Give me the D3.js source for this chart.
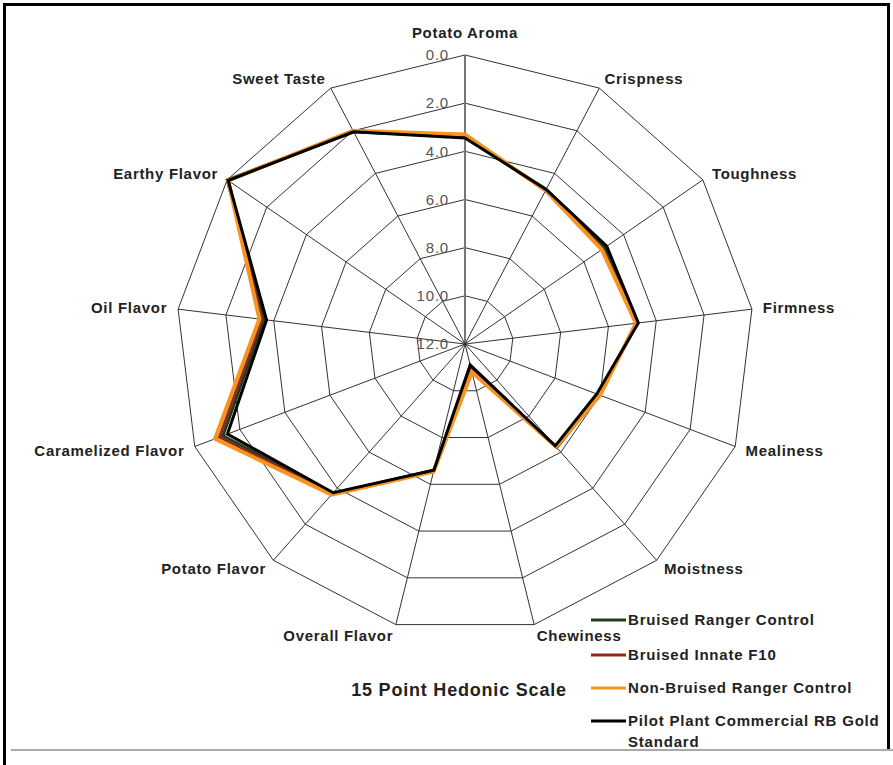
<!DOCTYPE html>
<html>
<head>
<meta charset="utf-8">
<script src="https://cdn.jsdelivr.net/npm/d3@7"></script>
<style>
  body { margin: 0; background: #fff; }
  svg { display: block; font-family: "Liberation Sans", Arial, sans-serif; }
</style>
</head>
<body>
<script>
// axes, clockwise from the top
var categories = ["Potato Aroma", "Crispness", "Toughness", "Firmness", "Mealiness",
    "Moistness", "Chewiness", "Overall Flavor", "Potato Flavor", "Caramelized Flavor",
    "Oil Flavor", "Earthy Flavor", "Sweet Taste"];

var seriesNames = ["Bruised Ranger Control", "Bruised Innate F10",
    "Non-Bruised Ranger Control", "Pilot Plant Commercial RB Gold Standard"];

var bruisedRanger  = [3.4, 4.75, 4.95, 4.8, 6.1, 6.3, 11.0, 6.6, 3.7, 1.25, 3.6, 0.0, 2.05];
var bruisedInnate  = [3.35, 4.8, 5.05, 4.8, 6.05, 6.25, 10.9, 6.6, 3.7, 1.1, 3.5, 0.05, 2.0];
var nonBruised     = [3.3, 4.8, 5.1, 4.85, 6.0, 6.3, 10.8, 6.55, 3.65, 0.9, 3.4, 0.05, 2.0];
var pilotPlant     = [3.45, 4.75, 4.85, 4.75, 6.15, 6.35, 11.1, 6.6, 3.75, 1.45, 3.7, 0.05, 2.05];

var tickValues = [0, 2, 4, 6, 8, 10, 12];

var width = 893, height = 765;
var cx = 465, cy = 344, R = 289;

var svg = d3.select("body").append("svg")
    .attr("width", width)
    .attr("height", height);

// frame
svg.append("path")
    .attr("d", "M4.5,765 L4.5,4.5 L888.5,4.5 L888.5,749")
    .attr("fill", "none").attr("stroke", "#000").attr("stroke-width", 3);
svg.append("line")
    .attr("x1", 11).attr("x2", 893).attr("y1", 750).attr("y2", 750)
    .attr("stroke", "#aaa").attr("stroke-width", 2);

// value scale runs in reverse: 0 on the outside, 12 at the centre
var r = d3.scaleLinear().domain([12, 0]).range([0, R]);
var angle = d3.scalePoint().domain(categories).range([0, 2 * Math.PI * 12 / 13]);

var g = svg.append("g").attr("transform", "translate(" + cx + "," + cy + ")");

function pt(cat, v) {
    var a = angle(cat);
    return [r(v) * Math.sin(a), -r(v) * Math.cos(a)];
}

// rings
g.selectAll("polygon.ring")
    .data(tickValues.filter(function (d) { return d < 12; }))
    .enter().append("polygon")
    .attr("class", "ring")
    .attr("points", function (v) {
        return categories.map(function (c) { return pt(c, v).join(","); }).join(" ");
    })
    .attr("fill", "none").attr("stroke", "#333").attr("stroke-width", 1);

// spokes
g.selectAll("line.spoke")
    .data(categories)
    .enter().append("line")
    .attr("class", "spoke")
    .attr("x1", 0).attr("y1", 0)
    .attr("x2", function (c) { return pt(c, 0)[0]; })
    .attr("y2", function (c) { return pt(c, 0)[1]; })
    .attr("stroke", function (c, i) { return i === 0 ? "#777" : "#333"; })
    .attr("stroke-width", function (c, i) { return i === 0 ? 2 : 1; });

// tick labels along the top axis
g.selectAll("text.tick")
    .data(tickValues)
    .enter().append("text")
    .attr("class", "tick")
    .attr("x", -16)
    .attr("y", function (v) { return -r(v); })
    .attr("dy", "0.35em")
    .attr("text-anchor", "end")
    .attr("font-size", 15)
    .attr("letter-spacing", 0.8)
    .attr("fill", "#555")
    .text(function (v) { return v.toFixed(1); });

// category labels
g.selectAll("text.cat")
    .data(categories)
    .enter().append("text")
    .attr("class", "cat")
    .attr("x", function (c) { return 300 * Math.sin(angle(c)); })
    .attr("y", function (c) {
        var a = angle(c), y = -300 * Math.cos(a);
        return Math.abs(Math.sin(a)) < 0.1 ? y - 11 : y;
    })
    .attr("dy", "0.35em")
    .attr("text-anchor", function (c) {
        var s = Math.sin(angle(c));
        return s > 0.1 ? "start" : (s < -0.1 ? "end" : "middle");
    })
    .attr("font-size", 15)
    .attr("letter-spacing", 0.7)
    .attr("font-weight", "bold")
    .attr("fill", "#222")
    .text(function (c) { return c; });

// series
var series = [
    { name: seriesNames[0], values: bruisedRanger, color: "#1f3d1f", w: 3 },
    { name: seriesNames[1], values: bruisedInnate, color: "#8b2a1c", w: 3 },
    { name: seriesNames[2], values: nonBruised, color: "#f7941d", w: 4 },
    { name: seriesNames[3], values: pilotPlant, color: "#000", w: 3 }
];

var line = d3.lineRadial()
    .angle(function (d, i) { return angle(categories[i]); })
    .radius(function (d) { return r(d); })
    .curve(d3.curveLinearClosed);

g.selectAll("path.series")
    .data(series)
    .enter().append("path")
    .attr("class", "series")
    .attr("d", function (s) { return line(s.values); })
    .attr("fill", "none")
    .attr("stroke", function (s) { return s.color; })
    .attr("stroke-width", function (s) { return s.w; })
    .attr("stroke-linejoin", "miter");

// title
svg.append("text")
    .attr("x", 459).attr("y", 690)
    .attr("dy", "0.35em")
    .attr("text-anchor", "middle")
    .attr("font-size", 18)
    .attr("letter-spacing", 0.8)
    .attr("font-weight", "bold")
    .attr("fill", "#222")
    .text("15 Point Hedonic Scale");

// legend
var legendY = [620, 655, 688, 721];
var leg = svg.selectAll("g.legend")
    .data(series)
    .enter().append("g")
    .attr("class", "legend")
    .attr("transform", function (s, i) { return "translate(591," + legendY[i] + ")"; });

leg.append("line")
    .attr("x1", 0).attr("x2", 35).attr("y1", 0).attr("y2", 0)
    .attr("stroke", function (s) { return s.color; })
    .attr("stroke-width", 3);

leg.append("text")
    .attr("x", 37).attr("dy", "0.35em")
    .attr("font-size", 15)
    .attr("letter-spacing", 0.8)
    .attr("font-weight", "bold")
    .attr("fill", "#222")
    .each(function (s) {
        var t = d3.select(this);
        if (s.name.indexOf("Gold") > 0) {
            t.append("tspan").attr("x", 37).text("Pilot Plant Commercial RB Gold");
            t.append("tspan").attr("x", 37).attr("dy", "1.4em").text("Standard");
        } else {
            t.text(s.name);
        }
    });
</script>
</body>
</html>
